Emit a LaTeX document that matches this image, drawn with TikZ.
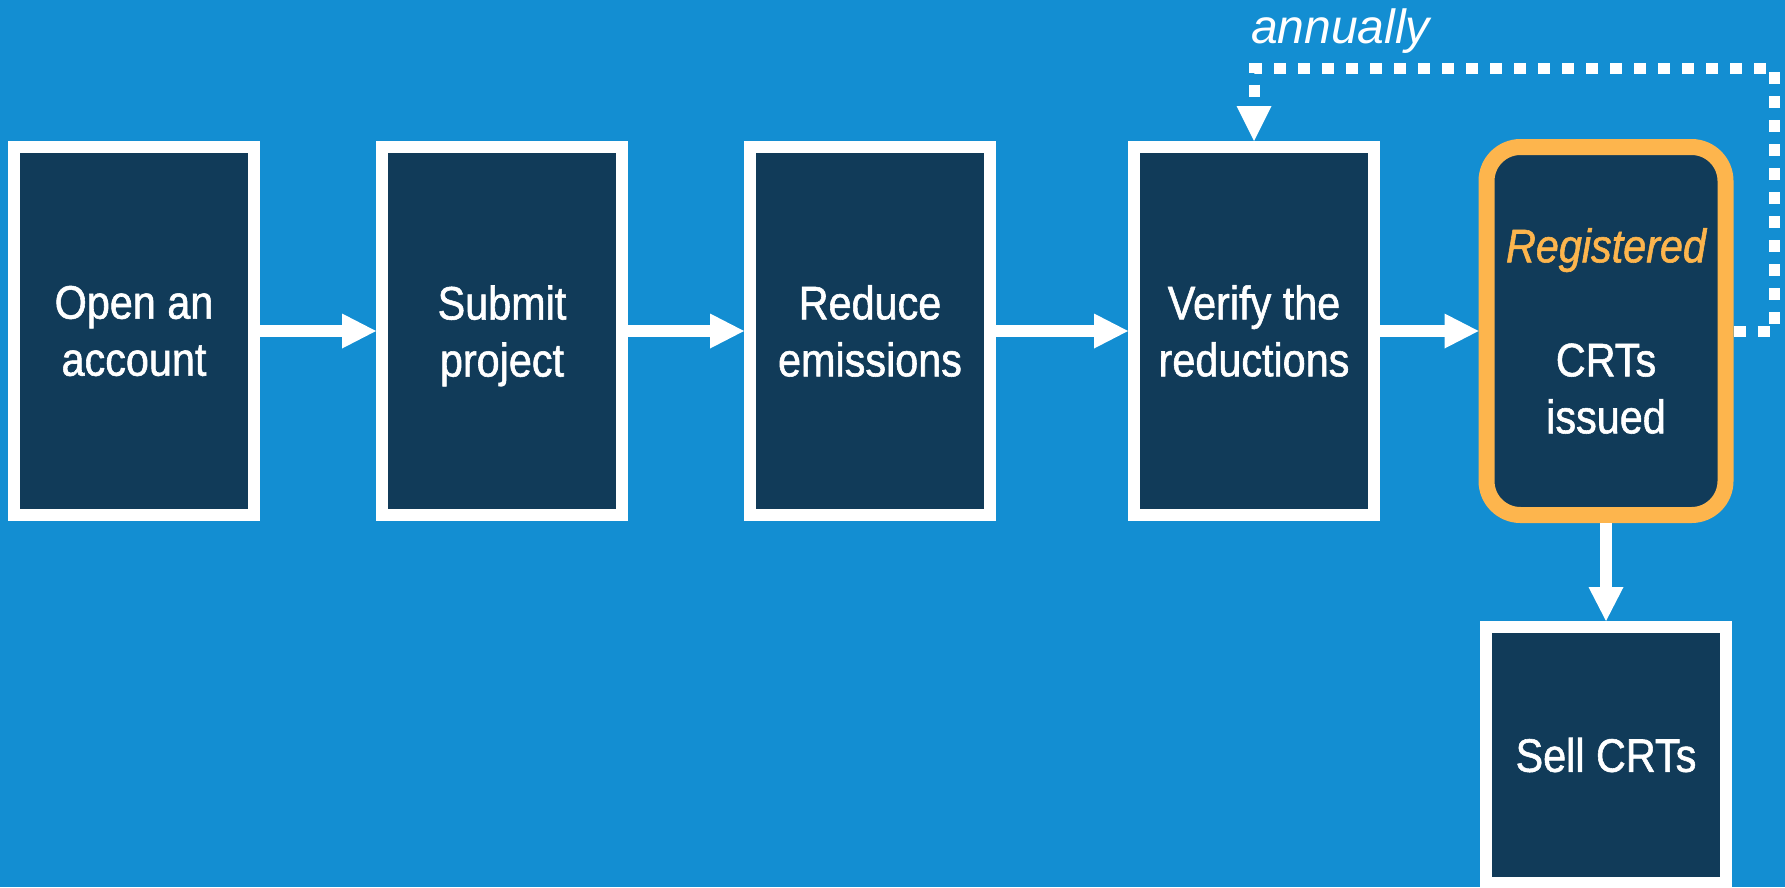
\documentclass[tikz,border=0pt]{standalone}
\usepackage{fontspec}
\setmainfont{Liberation Sans}
\newfontfamily\narrowfont[FakeStretch=0.88,FakeBold=1.2]{Liberation Sans}
\usetikzlibrary{arrows.meta}
\definecolor{bgblue}{RGB}{19,142,210}
\definecolor{boxdark}{RGB}{17,59,89}
\definecolor{regorange}{RGB}{253,181,77}
\begin{document}
\begin{tikzpicture}[x=1pt,y=-1pt,
  stepbox/.style={draw=white,line width=12pt,fill=boxdark,minimum width=240pt,minimum height=368pt,
    inner sep=0pt,text=white,font=\narrowfont\fontsize{47}{57}\selectfont,align=center},
  regbox/.style={draw=regorange,line width=16pt,rounded corners=34pt,fill=boxdark,minimum width=239pt,minimum height=368pt,
    inner sep=0pt,text=white,font=\narrowfont\fontsize{47}{57}\selectfont,align=center},
  flow/.style={draw=white,line width=12pt,-{Triangle[width=35pt,length=34pt,line width=0pt]}},
  loopline/.style={draw=white,line width=11pt,dash pattern=on 12pt off 12pt,-{Triangle[width=35pt,length=35pt,line width=0pt]}}]
\useasboundingbox (0,0) rectangle (1785,887);
\fill[bgblue] (0,0) rectangle (1785,887);

\node[stepbox] (b1) at (134,331) {Open an\\account};
\node[stepbox] (b2) at (502,331) {Submit\\\raisebox{0pt}[\height][0pt]{project}};
\node[stepbox] (b3) at (870,331) {Reduce\\emissions};
\node[stepbox] (b4) at (1254,331) {Verify the\\reductions};
\node[regbox] (b5) at (1606,331) {{\color{regorange}\itshape Registered}\\[57pt]CRTs\\issued};
\node[stepbox,minimum height=256pt] (b6) at (1606,755) {Sell CRTs};

\node[font=\itshape\fontsize{48}{58}\selectfont,text=white,anchor=base west,inner sep=0pt] (annual) at (1251,43) {annually};

\draw[flow] (b1.east) -- (b2.west);
\draw[flow] (b2.east) -- (b3.west);
\draw[flow] (b3.east) -- (b4.west);
\draw[flow] (b4.east) -- (b5.west);
\draw[flow] (b5.south) -- (b6.north);

\coordinate (tr) at (1774,68);
\draw[loopline] (b5.east) -| (tr) -- (b4.north |- tr) -- (b4.north);
\end{tikzpicture}
\end{document}
